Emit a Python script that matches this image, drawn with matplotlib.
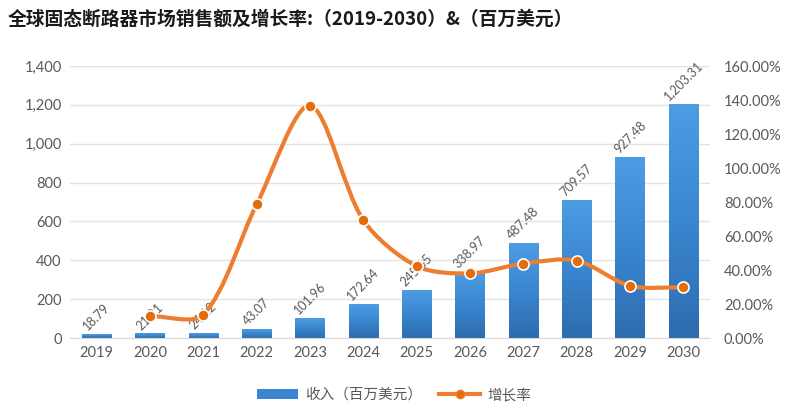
import numpy as np
import matplotlib
matplotlib.use("Agg")
import matplotlib.pyplot as plt
from matplotlib.path import Path
from matplotlib.patches import PathPatch, Patch
from matplotlib.lines import Line2D
from matplotlib.ticker import FuncFormatter, MultipleLocator
from matplotlib.colors import LinearSegmentedColormap

plt.rcParams['font.family'] = ['Lato', 'Noto Sans CJK SC', 'DejaVu Sans']

years = ['2019', '2020', '2021', '2022', '2023', '2024', '2025', '2026', '2027', '2028', '2029', '2030']
revenue = [18.79, 21.21, 24.12, 43.07, 101.96, 172.64, 245.65, 338.97, 487.48, 709.57, 927.48, 1203.31]
growth_years = years[1:]
growth = [12.88, 13.72, 78.57, 136.73, 69.32, 42.29, 37.99, 43.81, 45.56, 30.71, 29.74]

title = '全球固态断路器市场销售额及增长率:（2019-2030）&（百万美元）'
bar_label = '收入（百万美元）'
line_label = '增长率'

W, H = 788, 412
fig = plt.figure(figsize=(W/100, H/100), dpi=100)
ax = fig.add_axes([70/W, (H-338)/H, 640/W, (338-66)/H])
ax2 = ax.twinx()

x = np.arange(len(years))
bw = 0.55

# gradient bars
cmap = LinearSegmentedColormap.from_list('g', ['#2d6cae', '#3a86d0', '#4d9de3'])
grad = np.linspace(0, 1, 256).reshape(-1, 1)
for xi, v in zip(x, revenue):
    ax.imshow(grad, extent=(xi-bw/2, xi+bw/2, 0, v), origin='lower',
              aspect='auto', cmap=cmap, zorder=2)
    ax.text(xi, v + 10, f'{v:,.2f}', rotation=45, ha='center', va='bottom',
            fontsize=9, color='#595959', zorder=5)
ax.set_xlim(-0.5, len(years)-0.5)
ax.set_ylim(0, 1400)

ax.yaxis.set_major_locator(MultipleLocator(200))
ax.yaxis.set_major_formatter(FuncFormatter(lambda v, p: f'{v:,.0f}'))
ax.grid(axis='y', color='#e3e3e3', linewidth=1, zorder=0)
ax.set_axisbelow(True)
ax.set_xticks(x)
ax.set_xticklabels(years)
for s in ['top', 'right', 'left']:
    ax.spines[s].set_visible(False)
ax.spines['bottom'].set_color('#d9d9d9')
ax.tick_params(axis='both', length=0, labelsize=10.5, colors='#595959', pad=6)

ax2.set_ylim(0, 160)
ax2.yaxis.set_major_locator(MultipleLocator(20))
ax2.yaxis.set_major_formatter(FuncFormatter(lambda v, p: f'{v:.2f}%'))
for s in ['top', 'right', 'left', 'bottom']:
    ax2.spines[s].set_visible(False)
ax2.tick_params(axis='y', length=0, labelsize=10.5, colors='#595959', pad=10)

# smoothed line: Bezier through the data points, control points in pixel-like space
gx = np.array([years.index(y) for y in growth_years], dtype=float)
gy = np.array(growth, dtype=float)
sx = 640 / 12.0
sy = 272 / 160.0
P = np.column_stack([gx * sx, gy * sy])
n = len(P)
tension = 0.3
ctrl_in = [None] * n
ctrl_out = [None] * n
for i in range(n):
    p0 = P[max(i-1, 0)]
    p1 = P[i]
    p2 = P[min(i+1, n-1)]
    d01 = np.hypot(*(p1 - p0))
    d12 = np.hypot(*(p2 - p1))
    tot = d01 + d12 if d01 + d12 > 0 else 1
    fa = tension * d01 / tot
    fb = tension * d12 / tot
    ctrl_in[i] = p1 - fa * (p2 - p0)
    ctrl_out[i] = p1 + fb * (p2 - p0)
verts = [tuple(P[0])]
codes = [Path.MOVETO]
for i in range(n-1):
    for c in (ctrl_out[i], ctrl_in[i+1], P[i+1]):
        verts.append((c[0], c[1]))
        codes.append(Path.CURVE4)
verts = [(vx / sx, vy / sy) for vx, vy in verts]
path = Path(verts, codes)
ax2.add_patch(PathPatch(path, facecolor='none', edgecolor='#ed7d31', linewidth=3,
                        capstyle='round', zorder=3))
ax2.plot(gx, gy, linestyle='none', marker='o', markersize=8, markerfacecolor='#e46c0a',
         markeredgecolor='white', markeredgewidth=1.2, zorder=4)
ax2.set_xlim(-0.5, len(years)-0.5)

fig.text(8/W, 1-19/H, title, fontsize=13.5, fontweight='bold', color='#1a1a1a',
         ha='left', va='center', family=['Noto Sans CJK SC', 'DejaVu Sans'])

handles = [Patch(facecolor='#3a86d0', edgecolor='none'),
           Line2D([0], [0], color='#ed7d31', linewidth=3, marker='o', markersize=6,
                  markerfacecolor='#e46c0a', markeredgecolor='#ed7d31')]
leg = fig.legend(handles, [bar_label, line_label], loc='center', bbox_to_anchor=(0.5, 1-395/H),
                 ncol=2, frameon=False, handlelength=2.8, columnspacing=1.2,
                 handletextpad=0.5, prop={'family': ['Noto Sans CJK SC', 'DejaVu Sans'], 'size': 10.5})
for t_ in leg.get_texts():
    t_.set_color('#595959')

fig.savefig('out.png', dpi=100)
